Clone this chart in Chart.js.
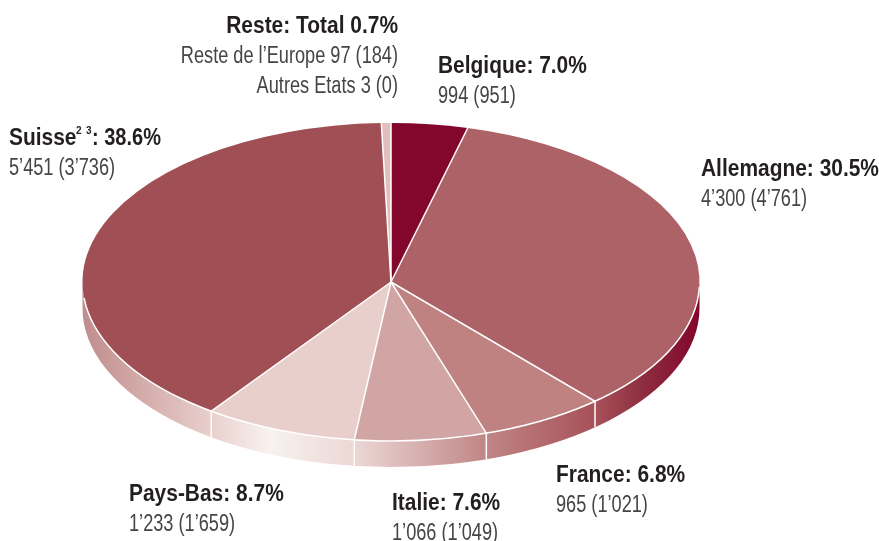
<!DOCTYPE html>
<html lang="fr">
<head>
    <meta charset="UTF-8">
    <title>Répartition par pays</title>
    <script src="https://cdn.jsdelivr.net/npm/chart.js"></script>
    <style>
        html, body { margin: 0; background: #fff; }
        canvas { display: block; }
    </style>
</head>
<body>
<canvas id="pieChart" width="879" height="541"></canvas>

<script>
    const countries = ['Belgique', 'Allemagne', 'France', 'Italie', 'Pays-Bas', 'Suisse', 'Reste'];
    // slice sizes as drawn in the picture, in percent of the turn (not the printed percentages)
    const sliceShares = [4.0, 34.5, 6.5, 6.9, 8.0, 39.6, 0.5];
    const sliceColors = ['#83072d', '#ad6267', '#bf8281', '#d0a5a3', '#e9cfcc', '#a04f55', '#e0bfbc'];

    const headings = ['Belgique: 7.0%', 'Allemagne: 30.5%', 'France: 6.8%', 'Italie: 7.6%', 'Pays-Bas: 8.7%', ': 38.6%', 'Reste: Total 0.7%'];
    const details = [
        ['994 (951)'],
        ['4’300 (4’761)'],
        ['965 (1’021)'],
        ['1’066 (1’049)'],
        ['1’233 (1’659)'],
        ['5’451 (3’736)'],
        ['Reste de l’Europe 97 (184)', 'Autres Etats 3 (0)']
    ];

    // label anchors: x, baseline of the heading, text align
    const labelAnchors = [
        [438, 73, 'left'], [701, 176, 'left'], [556, 482, 'left'], [392, 510, 'left'],
        [129, 501, 'left'], [9, 145, 'left'], [398, 33, 'right']
    ];

    const squash = { rx: 308.5, depth: 26 };
    const wallStops = [
        [82, '#c08c8c'], [210, '#e8cfcc'], [270, '#f8f2f0'], [353, '#ecd8d5'], [440, '#cfa2a2'],
        [487, '#c08585'], [597, '#a65058'], [640, '#8f3040'], [699, '#82052c']
    ];
    const boldFont = 'bold 23px "Liberation Sans", sans-serif';
    const lightFont = '23px "Liberation Sans", sans-serif';
    const supFont = 'bold 11px "Liberation Sans", sans-serif';
    const boldStretch = 0.91;
    const lightStretch = 0.79;

    // no condensed face installed, so squeeze the text sideways
    function narrowText(ctx, text, x, y, stretch) {
        ctx.save();
        ctx.translate(x, y);
        ctx.scale(stretch, 1);
        ctx.fillText(text, 0, 0);
        ctx.restore();
    }

    const pie3d = {
        id: 'pie3d',
        beforeDatasetsDraw(chart) {
            const ctx = chart.ctx;
            const arcs = chart.getDatasetMeta(0).data;
            const { x: cx, y: cy, outerRadius: ry } = arcs[0];
            const rx = squash.rx;

            const grad = ctx.createLinearGradient(82, 0, 699, 0);
            wallStops.forEach(([x, c]) => grad.addColorStop((x - 82) / (699 - 82), c));

            // side wall, front half only
            ctx.save();
            ctx.fillStyle = grad;
            ctx.beginPath();
            ctx.ellipse(cx, cy, rx, ry, 0, 0, Math.PI);
            ctx.ellipse(cx, cy + squash.depth, rx, ry, 0, Math.PI, 0, true);
            ctx.closePath();
            ctx.fill();
            ctx.restore();

            ctx.save();
            ctx.translate(cx, cy);
            ctx.scale(rx / ry, 1);
            ctx.translate(-cx, -cy);
        },
        afterDatasetsDraw(chart) {
            const ctx = chart.ctx;
            ctx.restore();

            const arcs = chart.getDatasetMeta(0).data;
            const { x: cx, y: cy, outerRadius: ry } = arcs[0];
            const rx = squash.rx;

            ctx.save();
            ctx.strokeStyle = '#fff';
            ctx.lineWidth = 1.5;
            arcs.forEach(arc => {
                const px = cx + rx * Math.cos(arc.startAngle);
                const py = cy + ry * Math.sin(arc.startAngle);
                ctx.beginPath();
                ctx.moveTo(cx, cy);
                ctx.lineTo(px, py);
                if (Math.sin(arc.startAngle) > 0.05) {
                    ctx.lineTo(px, py + squash.depth);
                }
                ctx.stroke();
            });
            // rim between the top and the wall
            ctx.beginPath();
            ctx.ellipse(cx, cy, rx, ry, 0, 0.03, Math.PI - 0.1);
            ctx.stroke();
            ctx.restore();
        },
        afterDraw(chart) {
            const ctx = chart.ctx;
            ctx.save();
            ctx.textBaseline = 'alphabetic';
            countries.forEach((name, i) => {
                const [x, y, align] = labelAnchors[i];
                ctx.textAlign = align;
                ctx.fillStyle = '#231f20';
                ctx.font = boldFont;
                if (name === 'Suisse') {
                    narrowText(ctx, name, x, y, boldStretch);
                    ctx.font = supFont;
                    narrowText(ctx, '2', x + 67, y - 11, boldStretch);
                    narrowText(ctx, '3', x + 77, y - 11, boldStretch);
                    ctx.font = boldFont;
                    narrowText(ctx, headings[i], x + 83, y, 0.87);
                } else {
                    narrowText(ctx, headings[i], x, y, boldStretch);
                }
                ctx.font = lightFont;
                ctx.fillStyle = '#464444';
                details[i].forEach((line, j) => narrowText(ctx, line, x, y + 30 * (j + 1), lightStretch));
            });
            ctx.restore();
        }
    };

    new Chart(document.getElementById('pieChart').getContext('2d'), {
        type: 'pie',
        data: {
            labels: countries,
            datasets: [{
                data: sliceShares,
                backgroundColor: sliceColors,
                borderWidth: 0,
                clip: false
            }]
        },
        options: {
            responsive: false,
            animation: false,
            layout: { padding: { top: 123, bottom: 100, left: 0, right: 97 } },
            plugins: { legend: { display: false }, tooltip: { enabled: false } }
        },
        plugins: [pie3d]
    });
</script>
</body>
</html>
